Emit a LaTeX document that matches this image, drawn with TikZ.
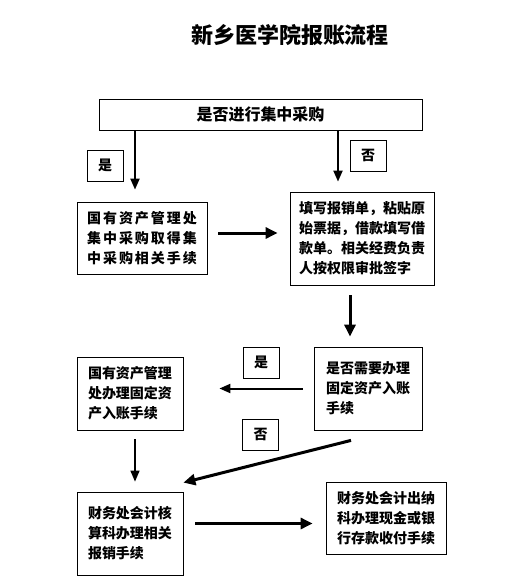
\documentclass[tikz,border=0pt]{standalone}
\usepackage{fontspec}
\newfontfamily\cjk{Noto Sans CJK SC}
\newfontfamily\cjkwide{Noto Sans CJK SC}[LetterSpace=14]
\usetikzlibrary{arrows.meta}

\begin{document}
\begin{tikzpicture}[x=1pt,y=-1pt,
	box/.style={draw,line width=0.8pt,align=left,inner sep=0pt,font=\cjk\bfseries\fontsize{14}{20}\selectfont},
	tag/.style={draw,line width=0.8pt,minimum width=36pt,minimum height=31pt,inner sep=0pt,font=\cjk\bfseries\fontsize{14}{17}\selectfont},
	arr/.style={line width=2pt,-{Triangle[length=11pt,width=9pt]}},
	fat/.style={line width=3pt,-{Triangle[length=12pt,width=11pt]}}]
	\useasboundingbox (0,0) rectangle (514,582);
	\node[font=\cjk\bfseries\fontsize{22}{26}\selectfont] (title) at (290,35) {新乡医学院报账流程};
	
	\node[box,font=\cjk\bfseries\fontsize{16}{20}\selectfont,minimum width=323pt,minimum height=31pt] (caigou) at (260.5,114.5) {是否进行集中采购};
	\node[box,font=\cjkwide\bfseries\fontsize{14}{20}\selectfont,minimum width=130pt,minimum height=72pt] (jizhong) at (142,238) {国有资产管理处\\集中采购取得集\\中采购相关手续};
	\node[box,minimum width=144pt,minimum height=93pt] (tianxie) at (362,238.5) {填写报销单，粘贴原\\始票据，借款填写借\\款单。相关经费负责\\人按权限审批签字};
	\node[box,minimum width=108pt,minimum height=83pt] (ruzhang) at (368,388.5) {是否需要办理\\固定资产入账\\手续};
	\node[box,minimum width=106pt,minimum height=73pt] (guoyou) at (130,393.5) {国有资产管理\\处办理固定资\\产入账手续};
	\node[box,minimum width=106pt,minimum height=83pt] (hesuan) at (130,533.5) {财务处会计核\\算科办理相关\\报销手续};
	\node[box,minimum width=120pt,minimum height=72pt] (chuna) at (386,518) {财务处会计出纳\\科办理现金或银\\行存款收付手续};
	
	\node[tag] (shi1) at (105,165.5) {是};
	\node[tag] (fou1) at (368,155.5) {否};
	\node[tag] (shi2) at (261,362.5) {是};
	\node[tag] (fou2) at (260.5,434.5) {否};
	
	\draw[arr,shorten >=12pt] ([xshift=-7pt]jizhong.north |- caigou.south) -- ([xshift=-7pt]jizhong.north);%yes
	\draw[arr,shorten >=10pt] ([xshift=-24pt]tianxie.north |- caigou.south) -- ([xshift=-24pt]tianxie.north);%no
	\draw[fat,shorten <=11pt,shorten >=12pt] ([yshift=5pt]jizhong.east) -- ([yshift=5pt]jizhong.east -| tianxie.west);
	\draw[fat,shorten <=10pt,shorten >=10pt] ([xshift=-12pt]tianxie.south) -- ([xshift=-18pt]ruzhang.north);
	\draw[arr,shorten <=11pt,shorten >=36pt] (ruzhang.west) -- (ruzhang.west -| guoyou.east);%yes
	\draw[arr,line width=1.5pt,shorten <=9pt,shorten >=10pt] ([xshift=5pt]guoyou.south) -- ([xshift=5pt]hesuan.north);
	\draw[fat] ([xshift=-17pt,yshift=-10pt]ruzhang.south) -- ([yshift=9pt]hesuan.north east);%no
	\draw[fat,shorten <=12pt,shorten >=13pt] ([yshift=10pt]hesuan.east) -- ([yshift=10pt]hesuan.east -| chuna.west);
\end{tikzpicture}
\end{document}
